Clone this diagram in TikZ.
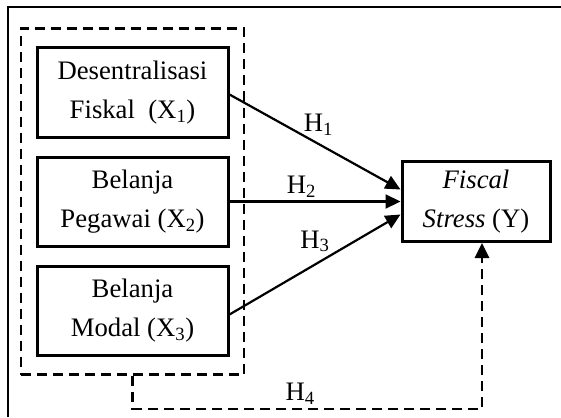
\documentclass[tikz,border=0pt]{standalone}
\usepackage{fontspec}
\setmainfont{Liberation Serif}
\usepackage{tikz}
\usetikzlibrary{arrows.meta, positioning, fit}

\begin{document}
\begin{tikzpicture}[
    x=1pt, y=-1pt,
    >={Triangle[length=15pt,width=14pt]},
    node distance=17pt,
    font=\fontsize{26.7}{39}\selectfont,
    varbox/.style={draw, rectangle, line width=3pt, minimum width=191pt, minimum height=89pt, align=center, inner sep=0pt},
    ybox/.style={draw, rectangle, line width=3pt, minimum width=148pt, minimum height=80pt, align=center, inner sep=0pt},
    dashline/.style={line width=2.7pt, dash pattern=on 10pt off 6pt},
    arrline/.style={->, line width=2.2pt}
  ]

  \useasboundingbox (0,0) rectangle (561,417);
  \draw[line width=2.2pt] (8,417) -- (8,7) -- (561,7);

  \node (x1) [varbox] at (132.5,92.5) {Desentralisasi\\Fiskal~~(X\textsubscript{1})};
  \node (x2) [varbox, below=of x1] {Belanja\\Pegawai (X\textsubscript{2})};
  \node (x3) [varbox, below=of x2] {Belanja\\Modal (X\textsubscript{3})};
  \node (yv) [ybox, right=171pt of x2] {\textit{Fiscal}\\\textit{Stress} (Y)};

  \node (grp) [dashline, draw, fit=(x1) (x2) (x3), inner xsep=14.5pt, inner ysep=18pt] {};

  \draw[arrline] ([yshift=-2pt]x1.east) -- node[above, pos=0.52, yshift=4pt] {H\textsubscript{1}} ([yshift=12pt]yv.west);
  \draw[arrline] (x2.east) -- node[above, pos=0.42] {H\textsubscript{2}} (yv.west);
  \draw[arrline] ([yshift=-4pt]x3.east) -- node[above, pos=0.5, yshift=8pt] {H\textsubscript{3}} ([yshift=-13pt]yv.west);
  \draw[dashline, ->] (grp.south) -- ++(0,33) coordinate (h4corner) -| node[above, pos=0.24] {H\textsubscript{4}} ([xshift=6pt]yv.south);

\end{tikzpicture}
\end{document}
